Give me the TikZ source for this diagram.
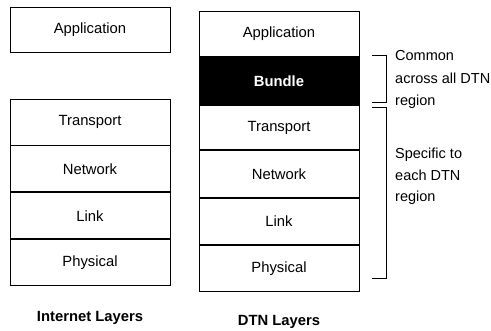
\documentclass[tikz,border=0pt]{standalone}
\usepackage{fontspec}
\setmainfont{Liberation Sans}
\usetikzlibrary{positioning}
\tikzset{
  layer/.style={draw, line width=0.9pt, minimum width=160pt, minimum height=46pt,
    inner sep=0pt, font=\fontsize{14.8}{17}\selectfont},
  bundlelayer/.style={layer, fill=black, text=white, font=\fontsize{14.8}{17}\selectfont\bfseries},
  caption/.style={font=\fontsize{14.8}{17}\selectfont\bfseries},
  note/.style={anchor=west, align=left, inner sep=0pt},
  bracket/.style={draw, line width=0.9pt}
}
\begin{document}
\begin{tikzpicture}[x=1pt, y=1pt]
  \useasboundingbox (0,0) rectangle (491,-331);
  % Internet stack
  \node[layer, minimum height=45pt] (iapp) at (90,-29.5) {Application};
  \node[layer] (itrans) at (90,-122) {Transport};
  \node[layer, below=0pt of itrans] (inet) {Network};
  \node[layer, below=0pt of inet] (ilink) {Link};
  \node[layer, below=0pt of ilink] (iphys) {Physical};
  \node[caption] (icap) at (90,-318) {Internet Layers};
  % DTN stack
  \node[layer, minimum height=45pt] (dapp) at (279,-33.5) {Application};
  \node[bundlelayer, minimum height=48pt, below=0pt of dapp] (dbundle) {Bundle};
  \node[layer, minimum height=44pt, below=0pt of dbundle] (dtrans) {Transport};
  \node[layer, minimum height=47pt, below=0pt of dtrans] (dnet) {Network};
  \node[layer, below=0pt of dnet] (dlink) {Link};
  \node[layer, below=0pt of dlink] (dphys) {Physical};
  \node[caption] (dcap) at (279,-322) {DTN Layers};
  % Klammern
  \draw[bracket] (372,-55) -- (386,-55) -- (386,-102) -- (372,-102);
  \draw[bracket] (372,-107) -- (386,-107) -- (386,-278) -- (372,-278);
  \node[note, font=\fontsize{14.5}{22.5}\selectfont] (common) at (395,-79.5)
    {Common\\across all DTN\\region};
  \node[note, font=\fontsize{14.5}{21.5}\selectfont] (specific) at (395,-176.5)
    {Specific to\\each DTN\\region};
\end{tikzpicture}
\end{document}
